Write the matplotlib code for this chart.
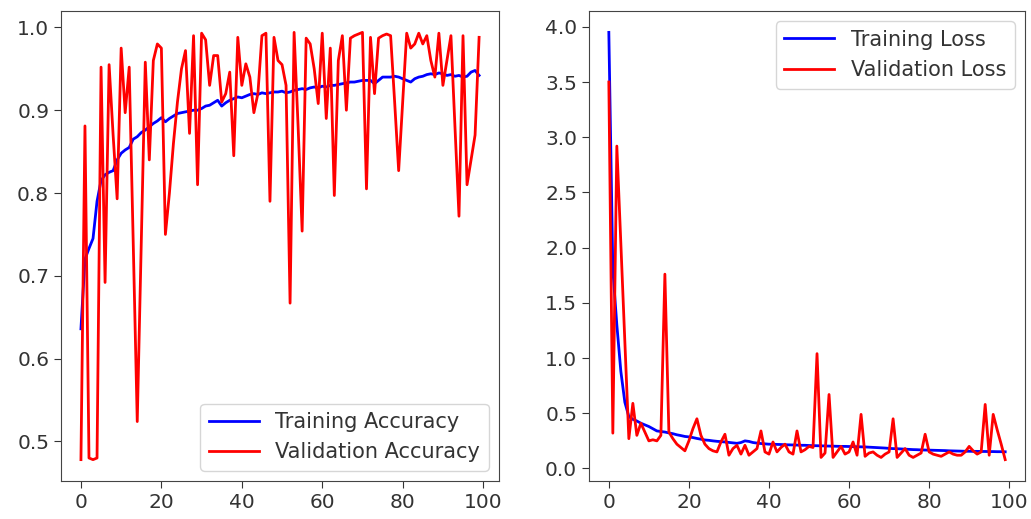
import matplotlib.pyplot as plt
import numpy as np


# accuracy / loss history
acc = [0.636, 0.72, 0.733, 0.745, 0.79, 0.815, 0.822, 0.825, 0.827, 0.84,
       0.848, 0.852, 0.855, 0.865, 0.868, 0.873, 0.876, 0.88, 0.884, 0.887,
       0.891, 0.886, 0.89, 0.893, 0.896, 0.897, 0.898, 0.899, 0.90, 0.90,
       0.902, 0.905, 0.906, 0.909, 0.912, 0.905, 0.909, 0.912, 0.914, 0.916,
       0.915, 0.917, 0.919, 0.92, 0.919, 0.921, 0.92, 0.921, 0.922, 0.922,
       0.923, 0.921, 0.922, 0.924, 0.925, 0.926, 0.925, 0.927, 0.928, 0.927,
       0.929, 0.928, 0.93, 0.93, 0.931, 0.932, 0.933, 0.934, 0.934, 0.935,
       0.936, 0.936, 0.936, 0.932, 0.936, 0.94, 0.94, 0.94, 0.941, 0.94,
       0.938, 0.936, 0.934, 0.938, 0.94, 0.941, 0.943, 0.944, 0.943, 0.945,
       0.944, 0.942, 0.943, 0.941, 0.942, 0.94, 0.941, 0.946, 0.948, 0.942]

val_acc = [0.478, 0.881, 0.48, 0.478, 0.48, 0.952, 0.692, 0.955, 0.87, 0.793,
           0.975, 0.897, 0.952, 0.74, 0.524, 0.74, 0.958, 0.84, 0.96, 0.98,
           0.975, 0.75, 0.80, 0.86, 0.91, 0.95, 0.972, 0.872, 0.99, 0.81,
           0.993, 0.985, 0.93, 0.966, 0.966, 0.91, 0.92, 0.946, 0.845, 0.988,
           0.93, 0.956, 0.94, 0.897, 0.92, 0.99, 0.993, 0.79, 0.988, 0.96,
           0.955, 0.93, 0.667, 0.994, 0.88, 0.754, 0.987, 0.98, 0.95, 0.908,
           0.993, 0.89, 0.975, 0.797, 0.96, 0.99, 0.90, 0.987, 0.99, 0.992,
           0.994, 0.805, 0.988, 0.92, 0.987, 0.99, 0.992, 0.99, 0.91, 0.827,
           0.91, 0.993, 0.975, 0.98, 0.993, 0.98, 0.99, 0.96, 0.94, 0.993,
           0.93, 0.96, 0.99, 0.88, 0.772, 0.99, 0.81, 0.84, 0.87, 0.988]

loss = [3.95, 1.8, 1.3, 0.88, 0.6, 0.47, 0.445, 0.43, 0.41, 0.395,
        0.38, 0.36, 0.34, 0.335, 0.33, 0.322, 0.315, 0.305, 0.298, 0.29,
        0.286, 0.28, 0.272, 0.265, 0.258, 0.255, 0.25, 0.246, 0.243, 0.24,
        0.236, 0.232, 0.228, 0.235, 0.25, 0.245, 0.235, 0.23, 0.226, 0.223,
        0.22, 0.22, 0.218, 0.217, 0.215, 0.214, 0.213, 0.212, 0.21, 0.21,
        0.208, 0.207, 0.206, 0.205, 0.204, 0.203, 0.202, 0.201, 0.2, 0.2,
        0.199, 0.198, 0.197, 0.196, 0.195, 0.193, 0.191, 0.189, 0.187, 0.185,
        0.182, 0.18, 0.179, 0.177, 0.175, 0.173, 0.171, 0.17, 0.168, 0.167,
        0.166, 0.165, 0.164, 0.163, 0.162, 0.16, 0.159, 0.158, 0.157, 0.156,
        0.156, 0.155, 0.155, 0.154, 0.154, 0.153, 0.153, 0.152, 0.152, 0.151]

val_loss = [3.50, 0.32, 2.92, 2.04, 1.15, 0.27, 0.59, 0.30, 0.41, 0.33,
            0.25, 0.26, 0.25, 0.30, 1.76, 0.33, 0.27, 0.22, 0.19, 0.16,
            0.25, 0.36, 0.45, 0.30, 0.22, 0.18, 0.16, 0.15, 0.24, 0.31,
            0.12, 0.18, 0.21, 0.13, 0.21, 0.12, 0.15, 0.18, 0.34, 0.15,
            0.13, 0.24, 0.15, 0.19, 0.22, 0.15, 0.13, 0.34, 0.15, 0.17,
            0.20, 0.19, 1.04, 0.10, 0.14, 0.67, 0.10, 0.15, 0.20, 0.13,
            0.15, 0.24, 0.12, 0.49, 0.11, 0.14, 0.15, 0.12, 0.10, 0.13,
            0.15, 0.45, 0.10, 0.14, 0.18, 0.12, 0.10, 0.12, 0.14, 0.31,
            0.15, 0.13, 0.12, 0.11, 0.13, 0.15, 0.13, 0.12, 0.12, 0.15,
            0.20, 0.16, 0.13, 0.15, 0.58, 0.12, 0.49, 0.35, 0.22, 0.08]

epochs = np.arange(len(acc))

plt.rcParams['font.size'] = 14
plt.rcParams['text.color'] = '#333333'
plt.rcParams['xtick.color'] = '#333333'
plt.rcParams['ytick.color'] = '#333333'

fig = plt.figure(figsize=(10.31, 5.19), dpi=100)
ax1 = fig.add_axes([0.0592, 0.0732, 0.4248, 0.9056])
ax2 = fig.add_axes([0.5713, 0.0732, 0.4229, 0.9056])

ax1.plot(epochs, acc, 'b', lw=2, label='Training Accuracy')
ax1.plot(epochs, val_acc, 'r', lw=2, label='Validation Accuracy')
ax1.legend(loc='lower right', fontsize=15, handlelength=2.4)

ax2.plot(epochs, loss, 'b', lw=2, label='Training Loss')
ax2.plot(epochs, val_loss, 'r', lw=2, label='Validation Loss')
ax2.legend(loc='upper right', fontsize=15, handlelength=2.4)

for ax in (ax1, ax2):
    ax.tick_params(labelsize=14.5, length=5)
    for s in ax.spines.values():
        s.set_color('#444444')

fig.savefig('out.png', dpi=100)
